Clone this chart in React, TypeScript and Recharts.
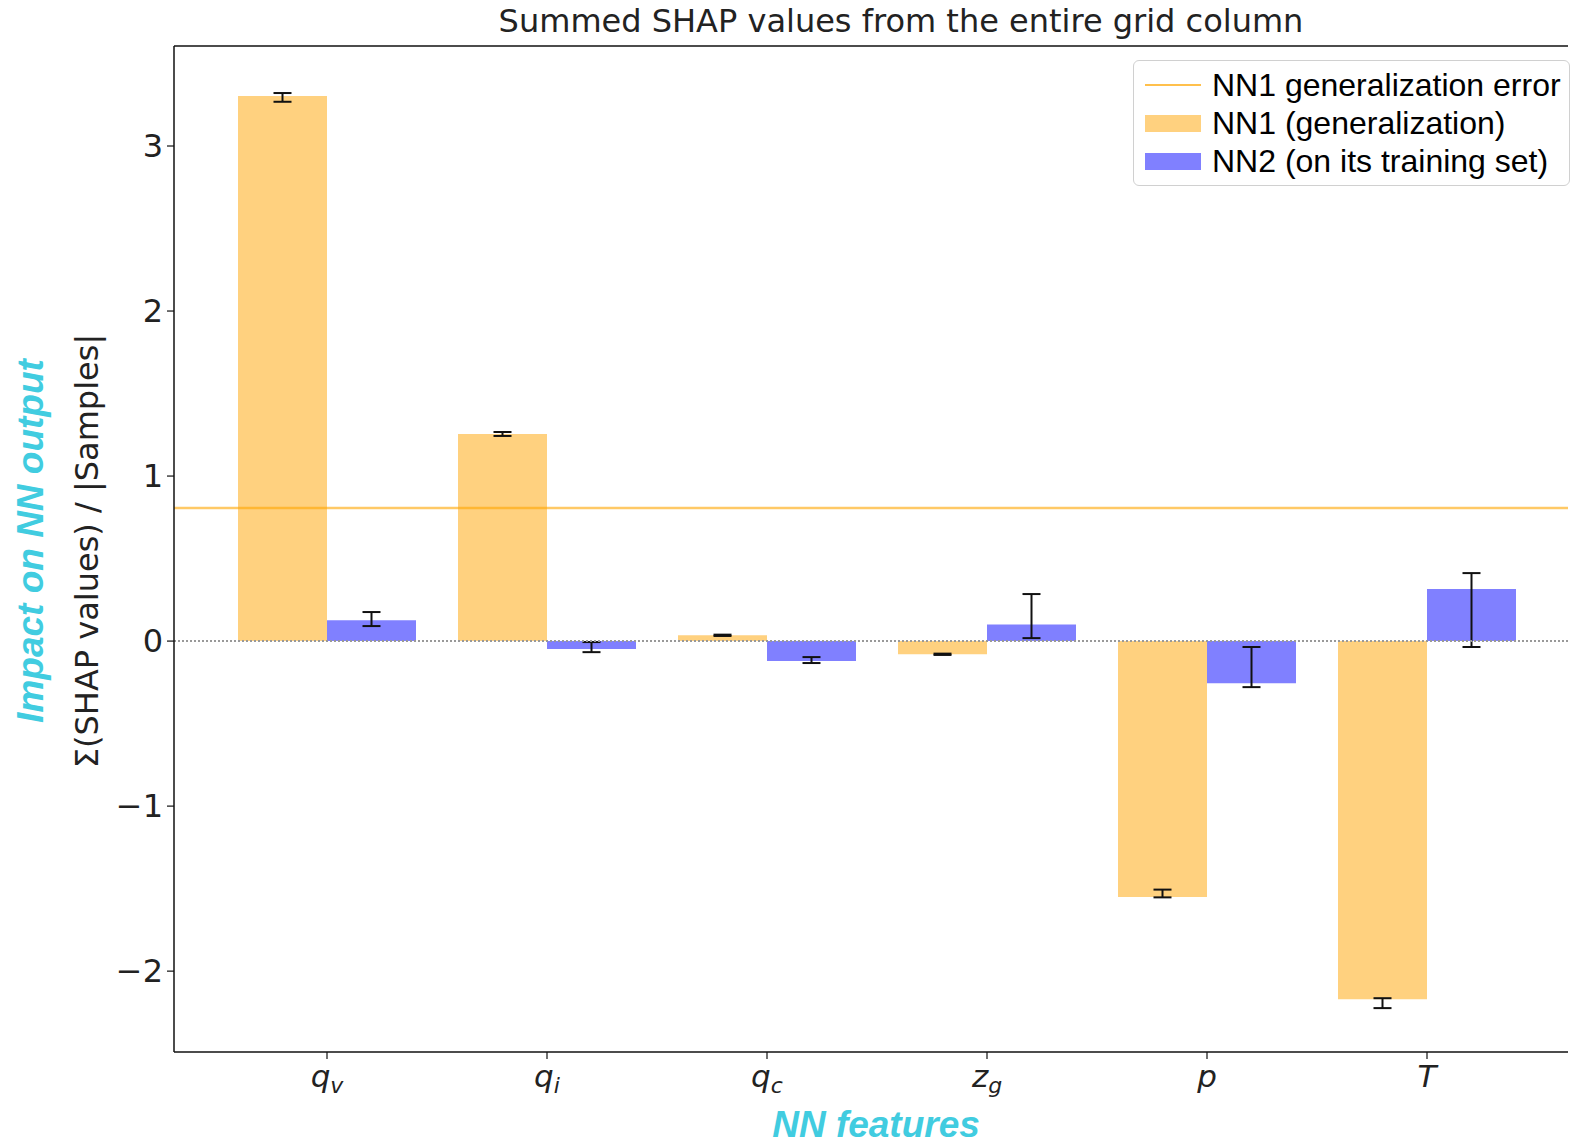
import { BarChart, Bar, XAxis, YAxis, ReferenceLine, ErrorBar, Legend, Customized } from 'recharts';

// feature names and their math-style tick labels
const features = ['q_v', 'q_i', 'q_c', 'z_g', 'p', 'T'];
const tickMain = ['q', 'q', 'q', 'z', 'p', 'T'];
const tickSub = ['v', 'i', 'c', 'g', '', ''];

// summed SHAP values (NN1 generalization, NN2 on its training set)
const nn1Values = [3.303, 1.255, 0.035, -0.08, -1.55, -2.17];
const nn2Values = [0.127, -0.048, -0.121, 0.101, -0.255, 0.315];

// asymmetric error offsets [below, above]
const nn1Errors = [[0.035, 0.018], [0.012, 0.012], [0.004, 0.004], [0.004, 0.004], [0.003, 0.044], [0.054, 0.006]];
const nn2Errors = [[0.036, 0.049], [0.019, 0.042], [0.012, 0.024], [0.083, 0.184], [0.024, 0.219], [0.351, 0.097]];

const generalizationError = 0.806;
const yTicks = [-2, -1, 0, 1, 2, 3];
const legendLabels = ['NN1 generalization error', 'NN1 (generalization)', 'NN2 (on its training set)'];

const ORANGE = '#FFD17F';
const BLUE = '#8080FF';
const CYAN = '#41CCE0';

const chartData = features.map((f, i) => ({
  feature: f,
  nn1: nn1Values[i],
  nn2: nn2Values[i],
  nn1Err: nn1Errors[i],
  nn2Err: nn2Errors[i],
}));

const FeatureTick = (props: any) => {
  const { x, y, payload } = props;
  const i = features.indexOf(payload.value);
  return (
    <text x={x} y={y + 26} textAnchor="middle" fill="#222" fontFamily="DejaVu Sans" fontSize={31} fontStyle="italic">
      <tspan>{tickMain[i]}</tspan>
      {tickSub[i] && <tspan fontSize={22} dy={6}>{tickSub[i]}</tspan>}
    </text>
  );
};

const renderLegend = () => (
  <div
    style={{
      border: '1.5px solid #d0d0d0',
      borderRadius: 6,
      background: 'rgba(255,255,255,0.85)',
      padding: '5px 0 6px 11px',
      fontFamily: 'Liberation Sans, Arial, sans-serif',
      fontSize: 32,
      color: '#000',
      boxSizing: 'border-box',
      height: 126,
    }}
  >
    {legendLabels.map((label, i) => (
      <div key={label} style={{ display: 'flex', alignItems: 'center', height: 38, lineHeight: '38px' }}>
        {i === 0 ? (
          <div style={{ width: 56, height: 2.5, background: '#FFA500', opacity: 0.7, marginRight: 11 }} />
        ) : (
          <div style={{ width: 56, height: 17, background: i === 1 ? ORANGE : BLUE, marginRight: 11 }} />
        )}
        <span style={{ whiteSpace: 'nowrap' }}>{label}</span>
      </div>
    ))}
  </div>
);

const Labels = () => (
  <g>
    <text x={901} y={32} textAnchor="middle" fontFamily="DejaVu Sans" fontSize={32} fill="#222">
      Summed SHAP values from the entire grid column
    </text>
    <text x={98} y={551} transform="rotate(-90 98 551)" textAnchor="middle" fontFamily="DejaVu Sans" fontSize={32} fill="#222">
      Σ(SHAP values) / |Samples|
    </text>
    <text x={43} y={541} transform="rotate(-90 43 541)" textAnchor="middle" fontFamily="Liberation Sans" fontSize={37} fontWeight="bold" fontStyle="italic" fill={CYAN}>
      Impact on NN output
    </text>
    <text x={876} y={1137} textAnchor="middle" fontFamily="Liberation Sans" fontSize={37} fontWeight="bold" fontStyle="italic" fill={CYAN}>
      NN features
    </text>
  </g>
);

export default function App() {
  return (
    <div style={{ position: 'absolute', left: 0, top: 0, width: 1570, height: 1144, background: '#fff' }}>
      <BarChart
        width={1570}
        height={1144}
        data={chartData}
        margin={{ top: 46, right: 2, bottom: 32, left: 0 }}
        barCategoryGap={21}
        barGap={0}
      >
        <XAxis
          dataKey="feature"
          height={60}
          padding={{ left: 43, right: 31 }}
          tick={<FeatureTick />}
          tickSize={7}
          axisLine={{ stroke: '#111', strokeWidth: 1.5 }}
          tickLine={{ stroke: '#111', strokeWidth: 1.2 }}
          interval={0}
        />
        <YAxis
          width={174}
          domain={[-2.49, 3.606]}
          allowDataOverflow
          ticks={yTicks}
          tickFormatter={(v: number) => (v < 0 ? '\u2212' + Math.abs(v) : String(v))}
          tickSize={7}
          tickMargin={4}
          tick={{ fill: '#222', fontSize: 32, fontFamily: 'DejaVu Sans' }}
          axisLine={{ stroke: '#111', strokeWidth: 1.5 }}
          tickLine={{ stroke: '#111', strokeWidth: 1.2 }}
        />
        <Bar dataKey="nn1" fill={ORANGE} isAnimationActive={false}>
          <ErrorBar dataKey="nn1Err" direction="y" width={9} stroke="#111" strokeWidth={2} />
        </Bar>
        <Bar dataKey="nn2" fill={BLUE} isAnimationActive={false}>
          <ErrorBar dataKey="nn2Err" direction="y" width={9} stroke="#111" strokeWidth={2} />
        </Bar>
        <ReferenceLine y={0} stroke="#999" strokeWidth={2} strokeDasharray="2 2" />
        <ReferenceLine y={generalizationError} stroke="#FFA500" strokeOpacity={0.6} strokeWidth={2.5} />
        <ReferenceLine y={3.606} stroke="#111" strokeWidth={1.5} />
        <Legend
          layout="vertical"
          align="center"
          verticalAlign="middle"
          wrapperStyle={{ top: 60, left: 1133, width: 437 }}
          content={renderLegend}
        />
        <Customized component={Labels} />
      </BarChart>
    </div>
  );
}
